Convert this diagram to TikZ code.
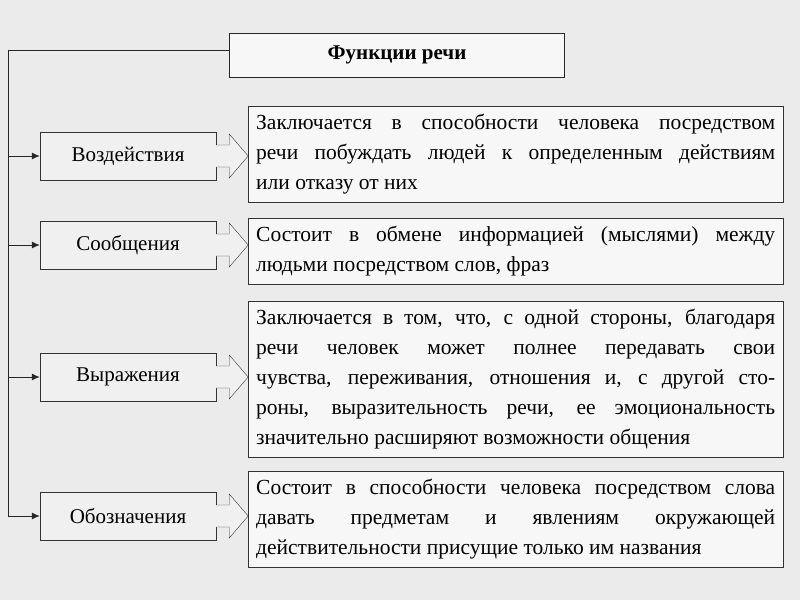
\documentclass[tikz,border=0pt]{standalone}
\usepackage{fontspec}
\setmainfont{Liberation Serif}
\usetikzlibrary{positioning,arrows.meta}

\begin{document}
\begin{tikzpicture}[x=1pt, y=-1pt]
\tikzset{catbox/.style={draw=black!80,fill=black!6,minimum width=176pt,minimum height=48pt,font=\fontsize{21}{24}\selectfont},
descbox/.style={draw=black!80,fill=black!3,text width=519pt,inner sep=8pt,align=justify,font=\fontsize{21.5}{30}\selectfont},
blockarrow/.style={draw=black!80,fill=black!6},
feed/.style={draw=black!85,line width=1pt,-{Latex[length=8pt,width=7pt]}}}

\fill[black!8] (0,0) rectangle (800,600);
\useasboundingbox (0,0) rectangle (800,600);

\node (title) [draw=black!85,line width=1pt,fill=black!3,minimum width=335pt,minimum height=44pt,font=\bfseries\fontsize{21}{24}\selectfont] at (397,55) {Функции речи};

\node (c1) [catbox] at (128,156) {Воздействия};
\node (c2) [catbox] at (128,245) {Сообщения};
\node (c3) [catbox] at (128,377) {Выражения};
\node (c4) [catbox] at (128,516) {Обозначения};

\node (d1) [descbox,anchor=north west] at (248,106) {Заключается в способности человека посредством\linebreak речи побуждать людей к определенным действиям\linebreak или отказу от них};
\node (d2) [descbox,anchor=north west] at (248,218) {Состоит в обмене информацией (мыслями) между\linebreak людьми посредством слов, фраз};
\node (d3) [descbox,anchor=north west] at (248,301) {Заключается в том, что, с одной стороны, благодаря\linebreak речи человек может полнее передавать свои\linebreak чувства, переживания, отношения и, с другой сто-\linebreak роны, выразительность речи, ее эмоциональность\linebreak значительно расширяют возможности общения};
\node (d4) [descbox,anchor=north west] at (248,471) {Состоит в способности человека посредством слова\linebreak давать предметам и явлениям окружающей\linebreak действительности присущие только им названия};

% hollow block arrows
\foreach \c in {c1,c2,c3,c4}
  \draw[blockarrow] (\c.east) ++(0,-11) -- ++(13,0) -- ++(0,-11) -- ++(19,22) -- ++(-19,22) -- ++(0,-11) -- ++(-13,0);

%% Connectors
\coordinate (top) at (8,50);
\draw[draw=black!85,line width=1pt] (title.west |- top) -- (top) -- (8,516);
\foreach \c in {c1,c2,c3,c4} \draw[feed] (top |- \c.west) -- (\c.west);
\end{tikzpicture}
\end{document}
